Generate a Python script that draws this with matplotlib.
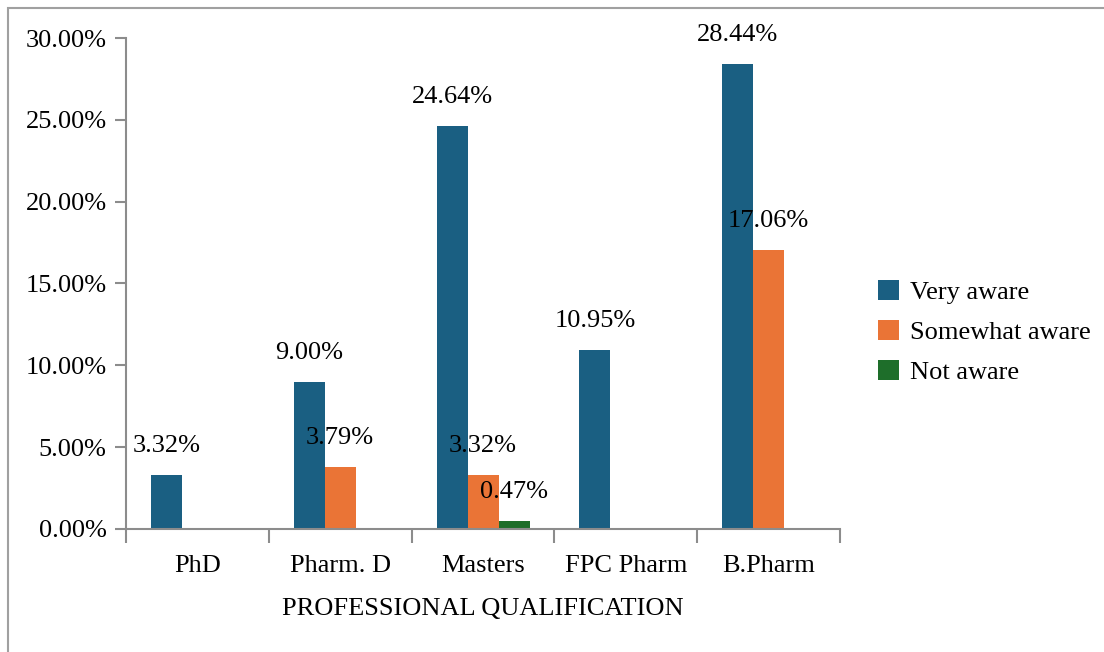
import numpy as np
from matplotlib import pyplot as plt
from matplotlib.patches import Rectangle

categories = ['PhD', 'Pharm. D', 'Masters', 'FPC Pharm', 'B.Pharm']
series_names = ['Very aware', 'Somewhat aware', 'Not aware']
very_aware = [3.32, 9.00, 24.64, 10.95, 28.44]
somewhat_aware = [0, 3.79, 3.32, 0, 17.06]
not_aware = [0, 0, 0.47, 0, 0]
colors = ['#1a5f82', '#ea7436', '#1e6e2a']

plt.rcParams['font.family'] = ['Liberation Serif', 'DejaVu Serif']
fs = 19
axis_gray = '#8c8c8c'

fig = plt.figure(figsize=(11.04, 6.52), dpi=100)
ax = fig.add_axes([0.1141, 0.1887, 0.6469, 0.753])

# outer frame
fig.patches.append(Rectangle((8 / 1104, -0.01), 1.1, 1 - 8 / 652 + 0.01,
                             transform=fig.transFigure, fill=False,
                             edgecolor='#a0a0a0', linewidth=1.5))

x = np.arange(len(categories))
width = 0.217
all_series = [very_aware, somewhat_aware, not_aware]
for i, (vals, name, c) in enumerate(zip(all_series, series_names, colors)):
    pos = x + (i - 1) * width
    ax.bar(pos, vals, width, color=c, label=name)
    for p, v in zip(pos, vals):
        if v > 0:
            ax.annotate(f'{v:.2f}%', (p, v), xytext=(0, 18), textcoords='offset pixels',
                        ha='center', va='bottom', fontsize=fs)

ax.set_xlim(-0.5, len(categories) - 0.5)
ax.set_ylim(0, 30)
ax.set_yticks(np.arange(0, 31, 5))
ax.set_yticklabels([f'{t:.2f}%' for t in np.arange(0, 31, 5)], fontsize=fs)
ax.set_xticks(np.arange(-0.5, len(categories)), minor=False)
ax.set_xticklabels([])
ax.set_xticks(x, minor=True)
ax.set_xticklabels(categories, minor=True, fontsize=fs)
ax.tick_params(axis='x', which='major', length=10, color=axis_gray, width=1.5)
ax.tick_params(axis='x', which='minor', length=0, pad=19)
ax.tick_params(axis='y', length=8, color=axis_gray, width=1.5, pad=6)
for s in ['top', 'right']:
    ax.spines[s].set_visible(False)
for s in ['left', 'bottom']:
    ax.spines[s].set_color(axis_gray)
    ax.spines[s].set_linewidth(1.5)
ax.set_xlabel('PROFESSIONAL QUALIFICATION', fontsize=fs, labelpad=15)

fig.legend(*ax.get_legend_handles_labels(), loc='center left',
           bbox_to_anchor=(0.774, 1 - 332 / 652), frameon=False, fontsize=fs,
           handlelength=0.8, handleheight=0.8, handletextpad=0.4, labelspacing=0.6)

fig.savefig('out.png', dpi=100)
